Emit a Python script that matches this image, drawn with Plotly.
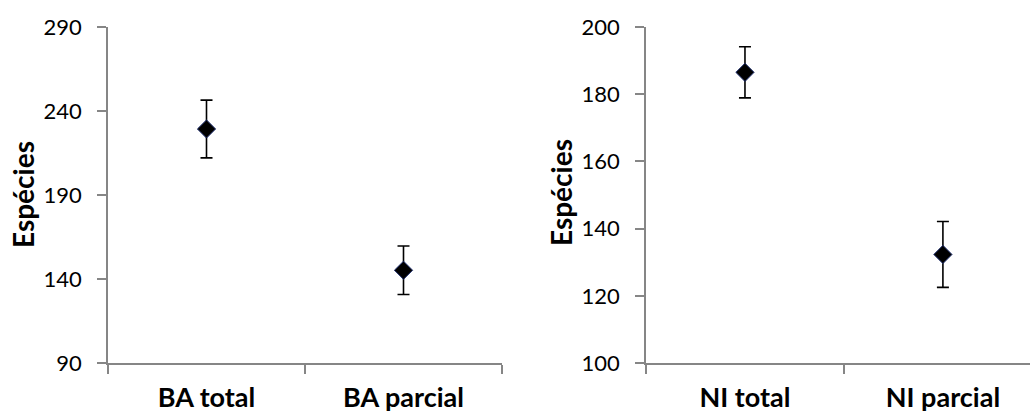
import plotly.graph_objects as go

# Species richness: mean with error bars, two panels
ba_categories = ["BA total", "BA parcial"]
ba_values = [229.3, 145.2]
ba_errors = [17.2, 14.4]

ni_categories = ["NI total", "NI parcial"]
ni_values = [186.5, 132.3]
ni_errors = [7.6, 9.8]

ba_ticks = [90, 140, 190, 240, 290]
ni_ticks = [100, 120, 140, 160, 180, 200]

y_title = "Espécies"

axis_color = "#868686"
text_color = "#000000"
tick_font = dict(family="Lato", size=22, color=text_color)
cat_font = dict(family="Lato", size=27, color=text_color, weight="bold")
title_font = dict(family="Lato", size=28, color=text_color, weight="bold")

fig = go.Figure()

marker_style = dict(symbol="diamond", size=14, color="#000000",
                    line=dict(color="#1f2f6f", width=1))
err_style = dict(thickness=1.6, width=6, color="#000000")

fig.add_trace(go.Scatter(
    x=ba_categories, y=ba_values, mode="markers",
    marker=marker_style,
    error_y=dict(type="data", array=ba_errors, visible=True, **err_style),
    xaxis="x", yaxis="y", showlegend=False,
))
fig.add_trace(go.Scatter(
    x=ni_categories, y=ni_values, mode="markers",
    marker=marker_style,
    error_y=dict(type="data", array=ni_errors, visible=True, **err_style),
    xaxis="x2", yaxis="y2", showlegend=False,
))

W, H = 1030, 415
y_dom = [(H - 363) / H, (H - 27) / H]

common_x = dict(
    type="category", showline=True, linecolor=axis_color, linewidth=1.5,
    ticks="outside", tickson="boundaries", ticklen=9, tickwidth=1.5,
    tickcolor=axis_color, showgrid=False, zeroline=False,
    tickfont=cat_font, ticklabelstandoff=10, automargin=False,
)
common_y = dict(
    showline=True, linecolor=axis_color, linewidth=1.5,
    ticks="outside", ticklen=9, tickwidth=1.5, tickcolor=axis_color,
    showgrid=False, zeroline=False, tickfont=tick_font,
    ticklabelstandoff=11, automargin=False,
)

# Rotated axis titles, placed beside each panel's tick labels
title_y = (y_dom[0] + y_dom[1]) / 2
annotations = [
    dict(text=y_title, x=23 / W, y=title_y, xref="paper", yref="paper",
         textangle=-90, showarrow=False, font=title_font,
         xanchor="center", yanchor="middle"),
    dict(text=y_title, x=561 / W, y=title_y + 2 / H, xref="paper",
         yref="paper", textangle=-90, showarrow=False, font=title_font,
         xanchor="center", yanchor="middle"),
]

fig.update_layout(
    width=W, height=H,
    margin=dict(l=0, r=0, t=0, b=0),
    paper_bgcolor="white", plot_bgcolor="white",
    xaxis=dict(common_x, domain=[108 / W, 502 / W], range=[-0.5, 1.5],
               anchor="y"),
    yaxis=dict(common_y, domain=y_dom, range=[90, 290], tickvals=ba_ticks,
               anchor="x"),
    xaxis2=dict(common_x, domain=[646 / W, 1.0], range=[-0.5, 1.44],
                anchor="y2"),
    yaxis2=dict(common_y, domain=y_dom, range=[100, 200], tickvals=ni_ticks,
                anchor="x2"),
    annotations=annotations,
)

fig.write_html("out.html")
